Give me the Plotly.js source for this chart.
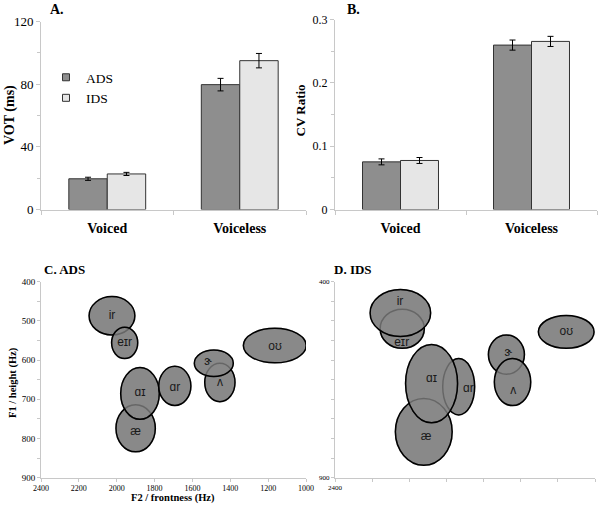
<!DOCTYPE html>
<html><head><meta charset="utf-8">
<script src="https://cdn.plot.ly/plotly-3.0.1.min.js"></script>
<style>html,body{margin:0;padding:0;background:#fff}</style>
</head><body><div id="chart" style="width:600px;height:507px"></div>
<script>
// ---- Data ----
const categories = ["Voiced", "Voiceless"];
const votADS = [19.6, 79.7];
const votIDS = [22.7, 95.0];
const votADSerr = [1.0, 4.0];
const votIDSerr = [1.0, 4.6];
const cvADS = [0.0752, 0.2596];
const cvIDS = [0.0774, 0.2654];
const cvADSerr = [0.0047, 0.008];
const cvIDSerr = [0.0047, 0.008];

const vowels = ["ir", "eɪr", "ɑɪ", "ɑr", "æ", "ɝ", "ʌ", "oʊ"];
// ADS formant means (Hz) and spread
const adsF2 = [2025, 1958, 1877, 1693, 1900, 1487, 1455, 1165];
const adsF1 = [487, 556, 685, 666, 774, 608, 657, 563];
const adsF2sd = [121, 69, 102, 85, 104, 103, 80, 166];
const adsF1sd = [49, 40, 66, 50, 60, 34, 49, 44];
const adsLabelF2 = [2025, 1958, 1877, 1693, 1900, 1518, 1455, 1164];
const adsLabelF1 = [487, 556, 683, 670, 783, 604, 659, 566];
const adsOrder = ["ir", "eɪr", "æ", "ɑɪ", "ɑr", "ʌ", "ɝ", "oʊ"];
// IDS
const idsF2 = [2048, 2038, 1880, 1734, 1922, 1477, 1444, 1155];
const idsF1 = [480, 520, 660, 668, 783, 586, 656, 528];
const idsF2sd = [163, 119, 140, 86, 153, 97, 98, 150];
const idsF1sd = [60, 50, 100, 72, 85, 50, 60, 42];
const idsLabelF2 = [2050, 2041, 1880, 1682, 1910, 1467, 1440, 1155];
const idsLabelF1 = [451, 557, 649, 675, 795, 583, 680, 528];
const idsOrder = ["eɪr", "ir", "æ", "ɑr", "ɑɪ", "ɝ", "ʌ", "oʊ"];

const axisTicksF2 = [2400, 2200, 2000, 1800, 1600, 1400, 1200, 1000];
const axisTicksF1 = [400, 500, 600, 700, 800, 900];

// ---- Styles ----
const SERIF = "'Liberation Serif', 'Times New Roman', serif";
const SANS = "'Liberation Sans', 'DejaVu Sans', Arial, sans-serif";
const cADS = "#8e8e8e", cIDS = "#e6e6e6";
const axCol = "#c8c8c8";
const ellFill = "#898989";

function bar(x, y, err, color, xa, ya) {
  return {type: "bar", x: x, y: y, xaxis: xa, yaxis: ya, showlegend: false,
    marker: {color: color, line: {color: "#333", width: 1}},
    error_y: {type: "data", array: err, visible: true, color: "#000", thickness: 1, width: 3},
    hoverinfo: "skip"};
}
const traces = [
  bar(categories, votADS, votADSerr, cADS, "x", "y"),
  bar(categories, votIDS, votIDSerr, cIDS, "x", "y"),
  bar(categories, cvADS, cvADSerr, cADS, "x2", "y2"),
  bar(categories, cvIDS, cvIDSerr, cIDS, "x2", "y2"),
  {type: "scatter", mode: "markers", x: [null], y: [null], name: "ADS", xaxis: "x", yaxis: "y",
    marker: {symbol: "square", size: 7, color: cADS, line: {color: "#333", width: 1}}},
  {type: "scatter", mode: "markers", x: [null], y: [null], name: "IDS", xaxis: "x", yaxis: "y",
    marker: {symbol: "square", size: 7, color: cIDS, line: {color: "#333", width: 1}}},
  {type: "scatter", mode: "text", x: adsLabelF2, y: adsLabelF1, text: vowels, xaxis: "x3", yaxis: "y3",
    showlegend: false, textfont: {family: SANS, size: 12, color: "#1a1a1a"}, hoverinfo: "skip"},
  {type: "scatter", mode: "text", x: idsLabelF2, y: idsLabelF1, text: vowels, xaxis: "x4", yaxis: "y4",
    showlegend: false, textfont: {family: SANS, size: 12, color: "#1a1a1a"}, hoverinfo: "skip"}
];

function ellipses(order, F2, F1, F2sd, F1sd, xr, yr) {
  const out = [];
  const idx = order.map(v => vowels.indexOf(v));
  idx.forEach(i => out.push({type: "circle", xref: xr, yref: yr, layer: "below",
    x0: F2[i] - F2sd[i], x1: F2[i] + F2sd[i], y0: F1[i] - F1sd[i], y1: F1[i] + F1sd[i],
    fillcolor: ellFill, line: {color: "#000", width: 1.5}}));
  idx.forEach(i => out.push({type: "circle", xref: xr, yref: yr, layer: "below",
    x0: F2[i] - F2sd[i], x1: F2[i] + F2sd[i], y0: F1[i] - F1sd[i], y1: F1[i] + F1sd[i],
    fillcolor: "rgba(0,0,0,0)", line: {color: "rgba(0,0,0,0.25)", width: 1.5}}));
  return out;
}
const shapes = ellipses(adsOrder, adsF2, adsF1, adsF2sd, adsF1sd, "x3", "y3")
  .concat(ellipses(idsOrder, idsF2, idsF1, idsF2sd, idsF1sd, "x4", "y4"));

const H = 507, W = 600;
const px = v => v / W, py = v => (H - v) / H;

function catAxis(dom, anchor) {
  return {domain: dom, anchor: anchor, type: "category", showline: true, linecolor: axCol, linewidth: 1,
    ticks: "outside", tickson: "boundaries", ticklen: 4, tickcolor: axCol, showgrid: false,
    ticklabelstandoff: 6,
    tickfont: {family: SERIF, size: 14, color: "#000", weight: "bold"}, fixedrange: true};
}
function valAxis(dom, anchor, range, dtick, minor, fs) {
  return {domain: dom, anchor: anchor, range: range, dtick: dtick, showline: true, linecolor: axCol,
    ticks: "outside", ticklen: 4, tickcolor: axCol, showgrid: false, zeroline: false,
    minor: {dtick: minor, ticks: "outside", ticklen: 3, tickcolor: axCol},
    tickfont: {family: SERIF, size: fs, color: "#000"}};
}

const xDomL = [px(41), px(306)], xDomR = [px(335), px(595)];
const layout = {
  width: W, height: H, margin: {l: 0, r: 0, t: 0, b: 0},
  paper_bgcolor: "#fff", plot_bgcolor: "rgba(0,0,0,0)",
  barmode: "group", bargap: 0.42, bargroupgap: 0,
  xaxis: catAxis(xDomL, "y"),
  yaxis: valAxis([py(209.5), py(21.5)], "x", [0, 120], 40, 20, 13),
  xaxis2: catAxis([px(335), px(597)], "y2"),
  yaxis2: valAxis([py(209.5), py(19.5)], "x2", [0, 0.3], 0.1, 0.05, 12),
  xaxis3: {domain: xDomL, anchor: "y3", range: [2400, 1000], tickvals: axisTicksF2,
    showline: true, linecolor: axCol, ticks: "outside", ticklen: 3, tickcolor: axCol,
    showgrid: false, zeroline: false, tickfont: {family: SERIF, size: 8, color: "#000"}},
  yaxis3: {domain: [py(477.7), py(281.7)], anchor: "x3", range: [900, 400], tickvals: axisTicksF1,
    showline: true, linecolor: axCol, ticks: "outside", ticklen: 3, tickcolor: axCol,
    minor: {dtick: 50, ticks: "outside", ticklen: 3, tickcolor: axCol},
    showgrid: false, zeroline: false, tickfont: {family: SERIF, size: 9, color: "#000"}},
  xaxis4: {domain: xDomR, anchor: "y4", range: [2400, 1000], tickvals: axisTicksF2,
    ticktext: axisTicksF2.map((v, i) => i === 0 ? String(v) : ""),
    showline: true, linecolor: axCol, ticks: "outside", ticklen: 3, tickcolor: axCol,
    showgrid: false, zeroline: false, tickfont: {family: SERIF, size: 7, color: "#000"}},
  yaxis4: {domain: [py(477.7), py(281.7)], anchor: "x4", range: [900, 400], tickvals: axisTicksF1,
    ticktext: axisTicksF1.map((v, i) => (i === 0 || i === axisTicksF1.length - 1) ? String(v) : ""),
    showline: true, linecolor: axCol, ticks: "outside", ticklen: 3, tickcolor: axCol,
    minor: {dtick: 50, ticks: "outside", ticklen: 3, tickcolor: axCol},
    showgrid: false, zeroline: false, tickfont: {family: SERIF, size: 7, color: "#000"}},
  showlegend: true,
  legend: {x: px(46), y: py(62), xanchor: "left", yanchor: "top", bgcolor: "rgba(0,0,0,0)",
    font: {family: SERIF, size: 13.5, color: "#000"}, itemclick: false, tracegroupgap: 0},
  shapes: shapes,
  annotations: [
    {text: "A.", x: px(48), y: py(9.5), xanchor: "left"},
    {text: "B.", x: px(345), y: py(9.5), xanchor: "left"},
    {text: "C. ADS", x: px(42), y: py(269), xanchor: "left", size: 13},
    {text: "D. IDS", x: px(331.5), y: py(269), xanchor: "left", size: 13},
    {text: "VOT (ms)", x: px(10), y: py(115), angle: -90},
    {text: "CV Ratio", x: px(300), y: py(110.5), angle: -90, size: 13},
    {text: "F2 / frontness (Hz)", x: px(172.5), y: py(497.5), size: 10.5},
    {text: "F1 / height (Hz)", x: px(13), y: py(383), angle: -90, size: 10.5}
  ].map(a => ({text: a.text, xref: "paper", yref: "paper", x: a.x, y: a.y,
    xanchor: a.xanchor || "center", yanchor: "middle", textangle: a.angle || 0, showarrow: false,
    font: {family: SERIF, size: a.size || 14, color: "#000", weight: "bold"}}))
};

Plotly.newPlot("chart", traces, layout, {staticPlot: true, displayModeBar: false});
</script>
</body></html>
